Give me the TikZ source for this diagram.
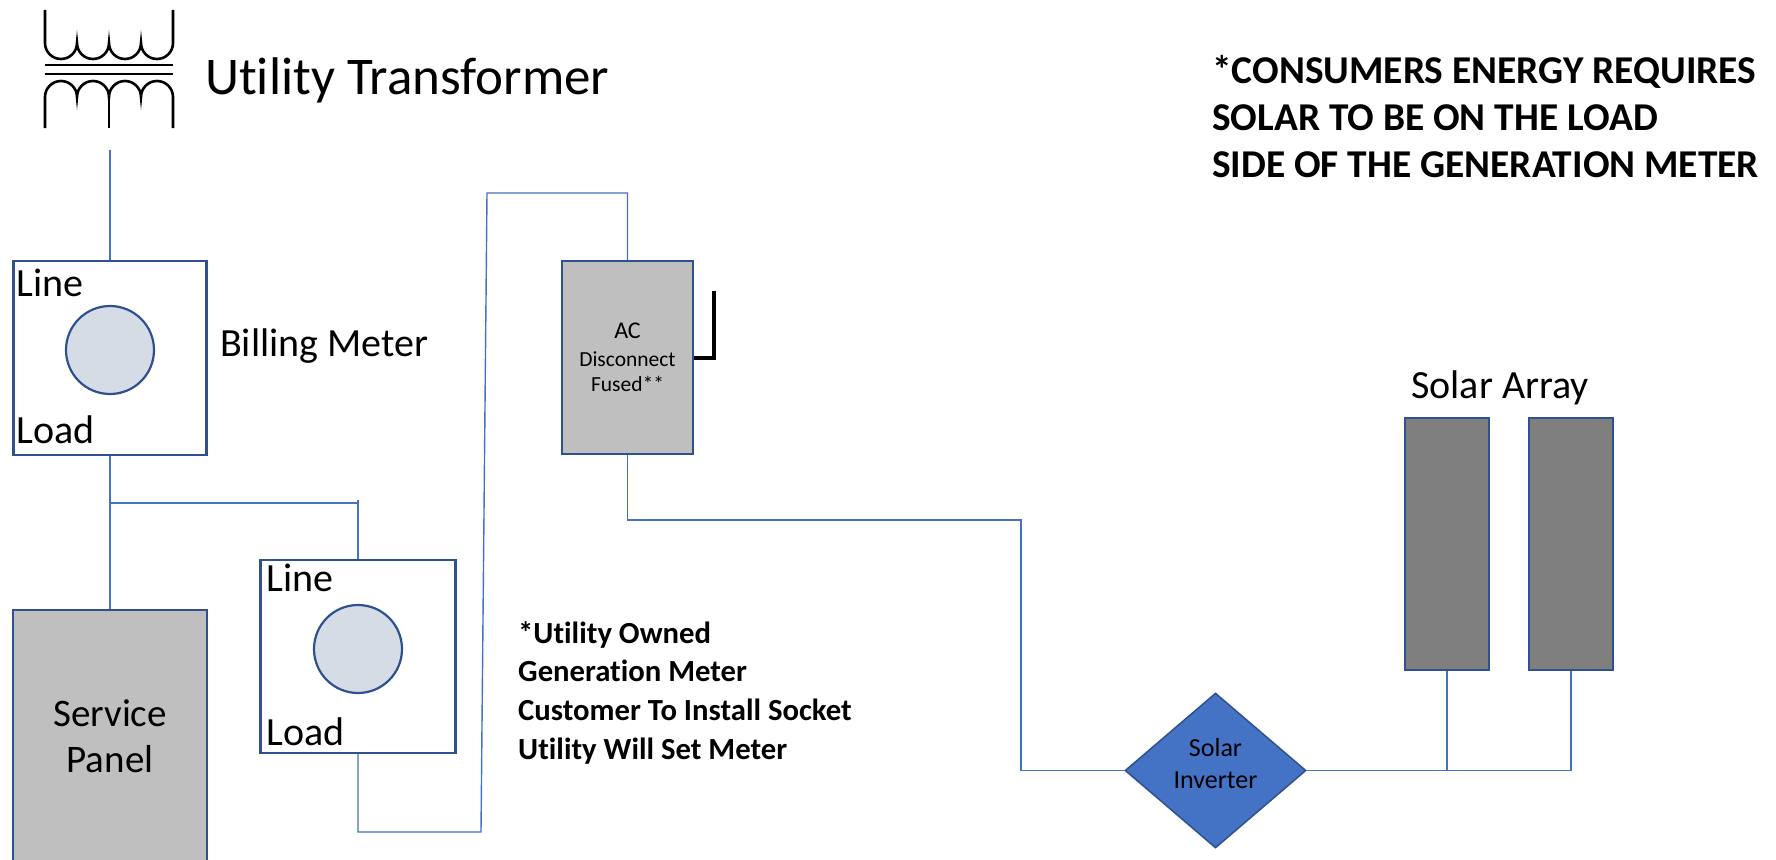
\documentclass[tikz,border=0pt]{standalone}
\usepackage{fontspec}
\setmainfont[Ligatures=NoCommon]{Carlito}
\usetikzlibrary{shapes.geometric}
\definecolor{wireblue}{HTML}{4472C4}
\definecolor{edgeblue}{HTML}{2F528F}
\definecolor{dialfill}{HTML}{D6DCE5}
\definecolor{panelgray}{HTML}{BFBFBF}
\definecolor{pvgray}{HTML}{7F7F7F}
\definecolor{invblue}{HTML}{4472C4}
\begin{document}
\begin{tikzpicture}[x=1pt,y=-1pt,
  box/.style={draw=edgeblue,line width=2.4pt,inner sep=0pt},
  meterbox/.style={box,fill=white},
  dial/.style={circle,draw=edgeblue,fill=dialfill,line width=2.2pt,inner sep=0pt,minimum size=88pt},
  wire/.style={draw=wireblue,line width=1.4pt},
  xfmr/.style={draw=black,line width=2.6pt},
  handle/.style={draw=black,line width=4pt},
  lbl/.style={inner sep=0pt,font=\fontsize{40}{46}\selectfont},
  bignote/.style={inner sep=0pt,align=left,font=\fontsize{39.4}{47}\selectfont\bfseries},
  smallnote/.style={inner sep=0pt,align=left,font=\fontsize{30.7}{38.6}\selectfont\bfseries}]
\clip (0,0) rectangle (1776,859);

% transformer symbol
\draw[xfmr] (45,10) -- (45,43)
  arc[start angle=180,end angle=0,radius=16]
  arc[start angle=180,end angle=0,radius=16]
  arc[start angle=180,end angle=0,radius=16]
  arc[start angle=180,end angle=0,radius=16] -- (173,10);
\draw[xfmr] (45,65) -- (173,65);
\draw[xfmr] (45,74) -- (173,74);
\draw[xfmr] (45,128) -- (45,97)
  arc[start angle=180,end angle=360,radius=16]
  arc[start angle=180,end angle=360,radius=16]
  arc[start angle=180,end angle=360,radius=16]
  arc[start angle=180,end angle=360,radius=16] -- (173,128);
\draw[xfmr] (109,97) -- (109,128);
\node[inner sep=0pt,anchor=base west,font=\fontsize{53}{60}\selectfont] (xft) at (205,94) {Utility Transformer};

% billing meter
\node[meterbox,minimum width=193pt,minimum height=194pt] (bm) at (110,358) {};
\node[dial] (bmdial) at (110,350) {};
\node[lbl,anchor=base west] (bmline) at (16,296) {Line};
\node[lbl,anchor=base west] (bmload) at (16,443) {Load};
\node[lbl,anchor=base west] (bmt) at (220,356) {Billing Meter};

% service panel
\node[box,fill=panelgray,minimum width=194pt,minimum height=252pt,align=center,
  font=\fontsize{39}{46}\selectfont] (sp) at (110,736) {Service\\Panel};

% generation meter
\node[meterbox,minimum width=195pt,minimum height=193pt] (gm) at (358,656.5) {};
\node[dial] (gmdial) at (358,649) {};
\node[lbl,anchor=base west] (gmline) at (266,591) {Line};
\node[lbl,anchor=base west] (gmload) at (266,745) {Load};

% AC disconnect
\node[box,fill=panelgray,minimum width=131pt,minimum height=193pt,align=center,
  font=\fontsize{21.5}{25}\selectfont] (ac) at (627.5,357.5)
  {{\fontsize{24}{25}\selectfont AC}\\[3pt]Disconnect\\Fused**};
\coordinate (hdl) at (714,291);
\draw[handle] (ac.east) -| (hdl);

% inverter
\node[diamond,draw=edgeblue,fill=invblue,line width=1.5pt,inner sep=0pt,
  shape aspect=1.17,minimum width=181pt,minimum height=155pt] (inv) at (1215.5,770.5) {};
\node[inner sep=0pt,align=center,font=\fontsize{26}{32}\selectfont] (invt) at (1215.5,764) {Solar\\Inverter};

% solar array
\node[box,fill=pvgray,minimum width=84pt,minimum height=252pt] (pv1) at (1447,544) {};
\node[box,fill=pvgray,minimum width=84pt,minimum height=252pt] (pv2) at (1571,544) {};
\node[lbl,anchor=base] (sa) at (1500,398) {Solar Array};

% notes
\node[bignote,anchor=base west] (note) at (1212,177)
  {*CONSUMERS ENERGY REQUIRES\\SOLAR TO BE ON THE LOAD\\SIDE OF THE GENERATION METER};
\node[smallnote,anchor=base west] (gnote) at (518,759)
  {*Utility Owned\\Generation Meter\\Customer To Install Socket\\Utility Will Set Meter};

% wiring
\coordinate (xfo) at (110,150);
\draw[wire] (xfo) -- (bm.north);
\draw[wire] (bm.south) -- (sp.north);
\coordinate (j1) at (110,503);
\coordinate (j2) at (358,503);
\coordinate (j2top) at (358,500);
\draw[wire] (j1) -- (j2);
\draw[wire] (j2top) -- (gm.north);
\coordinate (b1) at (358,832);
\coordinate (b2) at (481,832);
\coordinate (b3) at (487,193);
\coordinate (b4) at (627.5,193);
\draw[wire] (gm.south) -- (b1) -- (b2) -- (b3) -- (b4) -- (ac.north);
\coordinate (c1) at (627.5,520);
\coordinate (c2) at (1021,520);
\draw[wire] (ac.south) -- (c1) -- (c2) |- (inv.west);
\draw[wire] (inv.east) -- (pv2.south |- inv.east) -- (pv2.south);
\draw[wire] (pv1.south) -- (pv1.south |- inv.east);
\end{tikzpicture}
\end{document}
